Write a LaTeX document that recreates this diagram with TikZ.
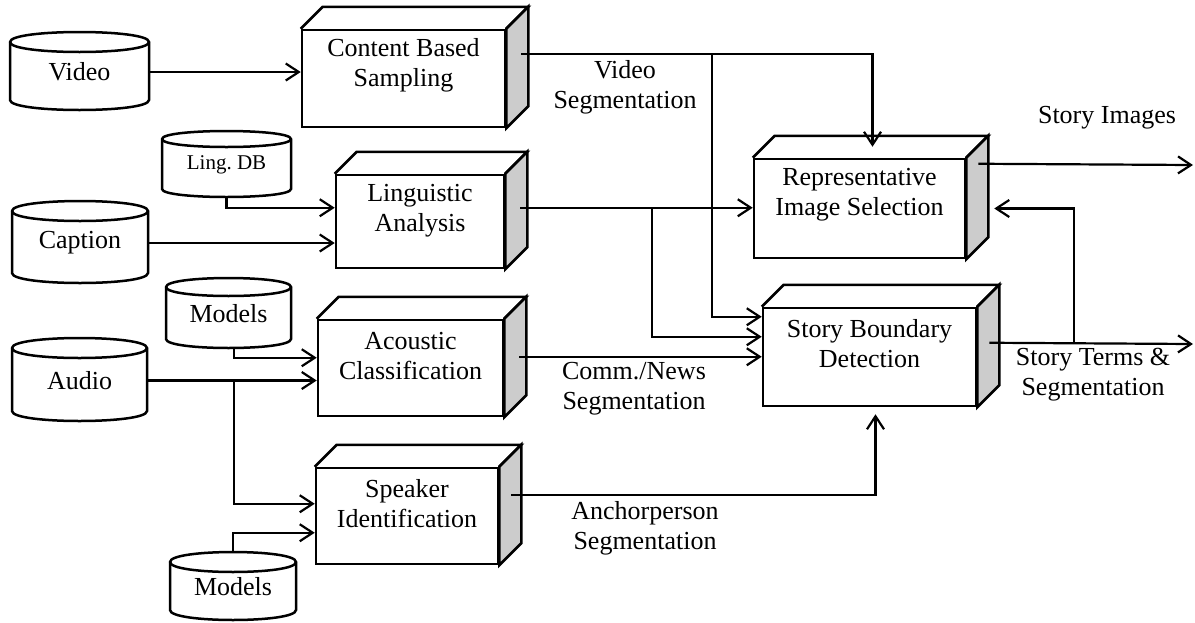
\documentclass[tikz,border=0pt]{standalone}
\usepackage{fontspec}
\setmainfont{Liberation Serif}
\usetikzlibrary{arrows.meta,calc}

\definecolor{sidegray}{RGB}{204,204,204}

\tikzset{
  conn/.style={line width=1.1pt, -{Straight Barb[length=6.5pt,width=8.5pt]}},
  outline/.style={line width=1.25pt, line join=miter},
  front/.style={draw, line width=1.25pt, fill=white, inner sep=0pt},
  sideface/.style={outline, fill=sidegray},
  lbl/.style={align=center, font=\fontsize{13}{15}\selectfont, inner sep=0pt},
  cyl/.style={inner sep=0pt, align=center, font=\fontsize{13}{15}\selectfont},
}

% 3-D processing block: name, x1, y1, x2, y2 of the front face, caption
\newcommand\procbox[6]{%
  \node[front, minimum width={(#4-#2)*0.5pt}, minimum height={(#5-#3)*0.5pt}]
    (#1) at ({(#2+#4)/2},{(#3+#5)/2}) {};
  \draw[outline, fill=white] (#1.north west) -- ++(22,-22)
    -- ($(#1.north east)+(22,-22)$) -- (#1.north east);
  \draw[sideface] (#1.north east) -- ++(22,-22)
    -- ($(#1.south east)+(22,-22)$) -- (#1.south east) -- cycle;
  \node[lbl] at ($(#1.north)+(0,37)$) {#6};
}

% data store drawn as a cylinder: name, x1, y1, x2, y2, ellipse radius, text
\newcommand\dbcyl[7]{%
  \draw[outline, fill=white]
    (#2,#3+#6) .. controls (#2,#3+#6-1.333*#6) and (#4,#3+#6-1.333*#6) .. (#4,#3+#6)
    -- (#4,#5-#6) .. controls (#4,#5-#6+1.333*#6) and (#2,#5-#6+1.333*#6) .. (#2,#5-#6)
    -- cycle;
  \draw[outline]
    (#2,#3+#6) .. controls (#2,#3+#6+1.333*#6) and (#4,#3+#6+1.333*#6) .. (#4,#3+#6);
  \node[cyl, minimum width={(#4-#2)*0.5pt}, minimum height={(#5-#3)*0.5pt}]
    (#1) at ({(#2+#4)/2},{(#3+#5)/2+1}) {#7};
}

\begin{document}
\begin{tikzpicture}[x=0.5pt, y=-0.5pt]
\useasboundingbox (0,0) rectangle (1195,622);

% data sources
\dbcyl{video}{10}{32}{149}{110}{10}{Video}
\dbcyl{lingdb}{162}{131}{291}{197}{8}{\fontsize{10.5}{12}\selectfont Ling.\ DB}
\dbcyl{caption}{12}{201}{148}{283}{10}{Caption}
\dbcyl{models1}{166}{278}{291}{348}{9}{Models}
\dbcyl{audio}{12}{338}{147}{421}{10}{Audio}
\dbcyl{models2}{170}{552}{296}{620}{10}{Models}

% processing blocks
\procbox{cbs}{302}{30}{505}{127}{Content Based\\Sampling}
\procbox{ling}{336}{175}{504}{268}{Linguistic\\Analysis}
\procbox{acou}{318}{320}{503}{416}{Acoustic\\Classification}
\procbox{spk}{316}{468}{498}{564}{Speaker\\Identification}
\procbox{ris}{754}{159}{965}{258}{Representative\\Image Selection}
\procbox{sbd}{763}{308}{976}{406}{Story Boundary\\Detection}

% junction and end points
\coordinate (cbsout) at ($(cbs.north east)+(15,25)$);
\coordinate (vsplit) at (712,55);
\coordinate (lingout) at ($(ling.north east)+(15,34)$);
\coordinate (lsplit) at (652,209);
\coordinate (acouout) at ($(acou.north east)+(15,38)$);
\coordinate (spkout) at ($(spk.north east)+(12,28)$);
\coordinate (risout) at ($(ris.north east)+(12,6)$);
\coordinate (sbdout) at ($(sbd.north east)+(12,36)$);
\coordinate (imgend) at (1193,165);
\coordinate (termend) at (1193,344);
\coordinate (fb) at (1074,344);
\coordinate (split) at (234,380);

% inputs
\draw[conn] (video.east) -- (video.east -| cbs.west);
\draw[conn] (lingdb.south) |- ($(ling.north west)+(0,34)$);
\draw[conn] (caption.east) -- (caption.east -| ling.west);
\draw[conn] (split |- models1.south) |- ($(acou.north west)+(0,39)$);
\draw[conn] (audio.east) -- (audio.east -| acou.west);
\draw[conn] (split) |- ($(spk.north west)+(0,37)$);
\draw[conn] (models2.north) |- ($(spk.north west)+(0,66)$);

% block outputs
\draw[conn] (cbsout) -| ($(ris.north)+(13,-11)$);
\draw[conn] (vsplit) |- ($(sbd.north west)+(0,10)$);
\draw[conn] (lingout) -- (lingout -| ris.west);
\draw[conn] (lsplit) |- ($(sbd.north west)+(0,30)$);
\draw[conn] (acouout) -- (acouout -| sbd.west);
\draw[conn] (spkout) -| ($(sbd.south)+(6,7)$);
\draw[conn] (risout) -- (imgend);
\draw[conn] (sbdout) -- (termend);
\draw[conn] (fb) |- ($(ris.east)+(28,0)$);

% connector labels
\node[lbl] (vseg) at (625,87) {Video\\Segmentation};
\node[lbl] (simg) at (1107,118) {Story Images};
\node[lbl] (cnseg) at (634,389) {Comm./News\\Segmentation};
\node[lbl] (aseg) at (645,528) {Anchorperson\\Segmentation};
\node[lbl] (stseg) at (1093,375) {Story Terms \&\\Segmentation};
\end{tikzpicture}
\end{document}
